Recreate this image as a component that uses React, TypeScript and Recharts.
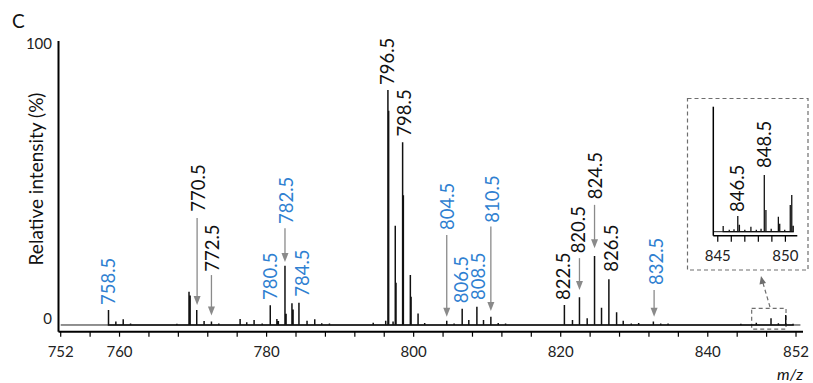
import React from "react";
import {
  ComposedChart,
  Line,
  XAxis,
  YAxis,
  ReferenceLine,
  ReferenceDot,
  ReferenceArea,
} from "recharts";

// main spectrum: stick positions (m/z) and relative intensity (%)
const PEAK_MZ = [
  758.5, 759.5, 760.5, 761.5, 762.5, 766.6, 767.8, 769.45, 769.6, 770.5,
  771.5, 772.5, 773.5, 774.5, 776.4, 777.3, 778.3, 779.4, 780.5, 781.4,
  781.6, 782.5, 782.65, 783.45, 783.6, 784.4, 785.5, 786.55, 787.5, 788.55,
  794.5, 796.2, 796.5, 796.6, 797.2, 797.5, 797.6, 798.5, 798.6, 799.55,
  799.65, 800.6, 801.5, 804.5, 805.5, 806.6, 807.5, 808.6, 809.5, 810.5,
  811.5, 812.5, 820.5, 821.6, 822.55, 823.6, 824.6, 825.55, 826.55, 827.6,
  828.5, 829.6, 830.6, 832.6, 833.6, 834.6, 844.5, 846.6, 848.6, 849.6,
  850.6, 851.6,
];
const PEAK_INT = [
  5.3, 1.2, 2.0, 0.5, 0.3, 0.3, 0.4, 11.8, 10.5, 5.3,
  1.4, 1.2, 0.5, 0.3, 2.1, 1.0, 1.8, 0.5, 7.0, 2.1,
  1.4, 21.0, 4.0, 7.7, 5.5, 7.9, 1.5, 2.0, 0.6, 0.5,
  0.8, 1.5, 83.3, 76.0, 1.2, 35.2, 15.0, 64.8, 46.0, 17.7,
  10.0, 4.1, 0.7, 1.5, 0.5, 5.8, 1.8, 6.5, 1.8, 2.9,
  0.7, 0.5, 7.1, 1.8, 9.8, 2.4, 24.5, 6.1, 16.2, 4.5,
  1.5, 0.5, 0.7, 1.2, 0.5, 0.5, 0.4, 0.8, 2.4, 0.6,
  3.5, 0.4,
];

// zoomed inset 845-851
const INSET_MZ = [
  845.4, 845.85, 846.2, 846.48, 846.6, 847.0, 847.45, 847.85, 848.2, 848.44,
  848.56, 848.95, 849.48, 849.58, 849.95, 850.36, 850.47, 850.58,
];
const INSET_INT = [
  5.7, 2.0, 2.5, 15.7, 7.0, 2.0, 5.0, 2.0, 3.0, 56.7,
  21.7, 3.0, 15.0, 8.0, 2.0, 26.7, 36.7, 6.0,
];

const X_TICKS = [
  752, 756, 760, 764, 768, 772, 776, 780, 784, 788, 792, 796, 800, 804, 808,
  812, 816, 820, 824, 828, 832, 836, 840, 844, 848, 852,
];
const X_LABELS = [752, 760, 780, 800, 820, 840, 852];
const Y_TICKS = [0, 100];
const INSET_TICKS = [845, 846, 847, 848, 849, 850];
const INSET_LABELS = [845, 850];

// peak annotations: label foot (m/z, intensity) and optional arrow [m/z, from, to]
type Note = { text: string; mz: number; at: number; blue?: boolean; arrow?: number[] };
const PEAK_NOTES: Note[] = [
  { text: "758.5", mz: 758.47, at: 7.1, blue: true },
  { text: "770.5", mz: 770.65, at: 40.2, arrow: [770.55, 37.9, 7.1] },
  { text: "772.5", mz: 772.62, at: 18.9, arrow: [772.5, 17.7, 3.4] },
  { text: "780.5", mz: 780.46, at: 8.9, blue: true },
  { text: "782.5", mz: 782.7, at: 35.8, blue: true, arrow: [782.5, 34.3, 22.3] },
  { text: "784.5", mz: 784.75, at: 10.0, blue: true },
  { text: "796.5", mz: 796.42, at: 85.1 },
  { text: "798.5", mz: 798.75, at: 66.8 },
  { text: "804.5", mz: 804.58, at: 33.7, blue: true, arrow: [804.5, 31.9, 2.9] },
  { text: "806.5", mz: 806.44, at: 7.7, blue: true },
  { text: "808.5", mz: 808.75, at: 8.9, blue: true },
  { text: "810.5", mz: 810.72, at: 36.3, blue: true, arrow: [810.5, 34.9, 5.0] },
  { text: "822.5", mz: 820.35, at: 8.9 },
  { text: "820.5", mz: 822.39, at: 25.4, arrow: [822.55, 23.7, 12.4] },
  { text: "824.5", mz: 824.66, at: 44.6, arrow: [824.6, 42.6, 27.2] },
  { text: "826.5", mz: 826.9, at: 18.9 },
  { text: "832.5", mz: 833.0, at: 14.2, blue: true, arrow: [832.7, 12.4, 2.9] },
];
const INSET_NOTES: Note[] = [
  { text: "846.5", mz: 846.43, at: 19.7 },
  { text: "848.5", mz: 848.42, at: 63.7 },
];

const BLUE = "#2f7fd1";
const GREY = "#8a8a8a";
const FONT = "Lato, 'Open Sans', sans-serif";

// each peak drawn as a stick: baseline -> top -> baseline
const toSticks = (mz: number[], inten: number[]) =>
  mz.flatMap((m, i) => [
    { mz: m, v: 0 },
    { mz: m, v: inten[i] },
    { mz: m, v: 0 },
  ]);

const spectrum = toSticks(PEAK_MZ, PEAK_INT);
const insetSpectrum = toSticks(INSET_MZ, INSET_INT);

const rotatedLabel = (text: string, color: string) => (props: any) => {
  const { cx, cy } = props;
  return (
    <text
      x={cx}
      y={cy}
      transform={`rotate(-90 ${cx} ${cy})`}
      textAnchor="start"
      dominantBaseline="central"
      fill={color}
      fontSize={18.5}
    >
      {text}
    </text>
  );
};

const arrowShape = (props: any) => {
  const { x1, y1, x2, y2 } = props;
  const top = Math.min(y1, y2);
  const tip = Math.max(y1, y2);
  const x = x1;
  return (
    <g>
      <line x1={x} y1={top} x2={x} y2={tip - 8} stroke={GREY} strokeWidth={1.3} />
      <polygon points={`${x - 3.5},${tip - 9} ${x + 3.5},${tip - 9} ${x},${tip}`} fill={GREY} />
    </g>
  );
};

const MainXTick = (props: any) => {
  const { x, payload } = props;
  if (!X_LABELS.includes(payload.value)) return <g />;
  return (
    <text x={x} y={357} textAnchor="middle" fontSize={15} fill="#222">
      {payload.value}
    </text>
  );
};

const MainYTick = (props: any) => {
  const { y, payload } = props;
  return (
    <text
      x={52}
      y={y + (payload.value === 0 ? -7 : 0)}
      textAnchor="end"
      dominantBaseline="central"
      fontSize={15}
      fill="#222"
    >
      {payload.value}
    </text>
  );
};

const InsetXTick = (props: any) => {
  const { x, payload } = props;
  if (!INSET_LABELS.includes(payload.value)) return <g />;
  return (
    <text x={x} y={261} textAnchor="middle" fontSize={15} fill="#222">
      {payload.value}
    </text>
  );
};

const renderNotes = (notes: Note[], prefix: string) =>
  notes.flatMap((n, i) => {
    const out = [
      <ReferenceDot
        key={`${prefix}-l${i}`}
        x={n.mz}
        y={n.at}
        ifOverflow="visible"
        shape={rotatedLabel(n.text, n.blue ? BLUE : "#111")}
      />,
    ];
    if (n.arrow) {
      out.push(
        <ReferenceLine
          key={`${prefix}-a${i}`}
          segment={[
            { x: n.arrow[0], y: n.arrow[1] },
            { x: n.arrow[0], y: n.arrow[2] },
          ]}
          ifOverflow="visible"
          shape={arrowShape}
        />
      );
    }
    return out;
  });

export default function App() {
  return (
    <div
      style={{
        position: "absolute",
        left: 0,
        top: 0,
        width: 813,
        height: 383,
        background: "#fff",
        fontFamily: FONT,
      }}
    >
      <div style={{ position: "absolute", left: 0, top: 0 }}>
        <ComposedChart
          width={813}
          height={383}
          data={spectrum}
          margin={{ top: 41, right: 10, bottom: 21.3, left: 28.5 }}
        >
          <XAxis
            dataKey="mz"
            type="number"
            domain={[751.7, 852.95]}
            ticks={X_TICKS}
            interval={0}
            allowDataOverflow
            height={30}
            tickSize={5}
            tickLine={{ stroke: "#000", strokeWidth: 1.2 }}
            axisLine={{ stroke: "#000", strokeWidth: 2 }}
            tick={MainXTick}
          />
          <YAxis
            type="number"
            domain={[-2.38, 100.7]}
            ticks={Y_TICKS}
            allowDataOverflow
            width={30}
            tickLine={false}
            axisLine={{ stroke: "#000", strokeWidth: 2 }}
            tick={MainYTick}
          />
          <ReferenceLine
            segment={[
              { x: 752, y: 0 },
              { x: 852.6, y: 0 },
            ]}
            stroke="#222"
            strokeWidth={1}
          />
          <ReferenceArea
            x1={845.97}
            x2={850.64}
            y1={-1.5}
            y2={5.9}
            ifOverflow="visible"
            fill="none"
            fillOpacity={0}
            stroke="#6e6e6e"
            strokeWidth={1.2}
            strokeDasharray="4 3"
          />
          <Line
            dataKey="v"
            type="linear"
            stroke="#111"
            strokeWidth={1.5}
            dot={false}
            activeDot={false}
            isAnimationActive={false}
          />
          {renderNotes(PEAK_NOTES, "main")}
        </ComposedChart>
      </div>

      <div style={{ position: "absolute", left: 0, top: 0 }}>
        <ComposedChart
          width={813}
          height={383}
          data={insetSpectrum}
          margin={{ top: 106.7, right: 15.7, bottom: 117.3, left: 703.3 }}
        >
          <XAxis
            dataKey="mz"
            type="number"
            domain={[844.67, 850.88]}
            ticks={INSET_TICKS}
            interval={0}
            allowDataOverflow
            height={30}
            tickSize={6}
            tickLine={{ stroke: "#000", strokeWidth: 1.2 }}
            axisLine={{ stroke: "#000", strokeWidth: 1.5 }}
            tick={InsetXTick}
          />
          <YAxis
            type="number"
            domain={[-4, 125]}
            allowDataOverflow
            width={10}
            tick={false}
            tickLine={false}
            axisLine={{ stroke: "#000", strokeWidth: 1.5 }}
          />
          <ReferenceLine
            segment={[
              { x: 844.67, y: 0 },
              { x: 850.6, y: 0 },
            ]}
            stroke="#222"
            strokeWidth={1}
          />
          <Line
            dataKey="v"
            type="linear"
            stroke="#111"
            strokeWidth={1.3}
            dot={false}
            activeDot={false}
            isAnimationActive={false}
          />
          {renderNotes(INSET_NOTES, "inset")}
        </ComposedChart>
      </div>

      <svg
        width={813}
        height={383}
        style={{ position: "absolute", left: 0, top: 0, pointerEvents: "none" }}
      >
        <text x={12} y={28} fontSize={19} fill="#111">
          C
        </text>
        <text
          x={35.5}
          y={179}
          transform="rotate(-90 35.5 179)"
          textAnchor="middle"
          dominantBaseline="central"
          fontSize={19}
          fill="#111"
        >
          Relative intensity (%)
        </text>
        <text x={790} y={380} textAnchor="middle" fontSize={16} fontStyle="italic" fill="#111">
          m/z
        </text>
        <rect
          x={687.5}
          y={98.5}
          width={120.5}
          height={171.5}
          fill="none"
          stroke="#6e6e6e"
          strokeWidth={1.2}
          strokeDasharray="4 3"
        />
        <line x1={770} y1={307} x2={763} y2={283} stroke="#6e6e6e" strokeWidth={1.2} strokeDasharray="4 3" />
        <polygon points="761,276 759.5,284.5 766,283" fill="#6e6e6e" />
      </svg>
    </div>
  );
}
